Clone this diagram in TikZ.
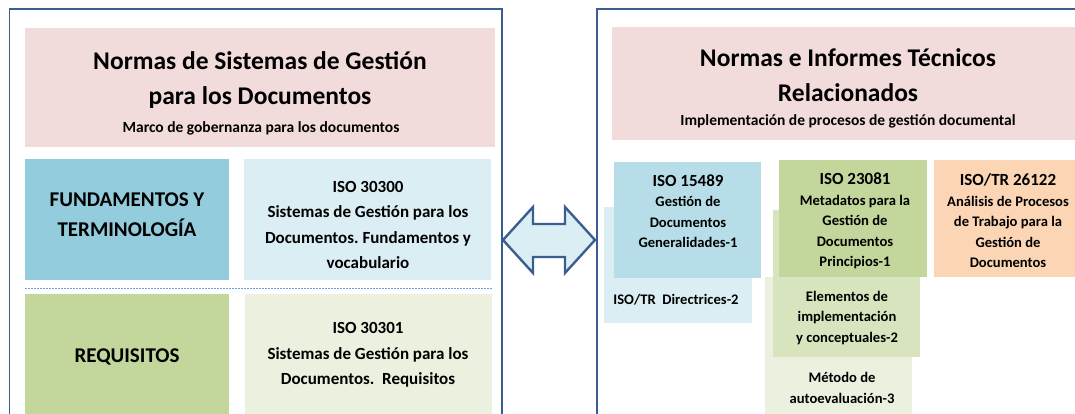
\documentclass[tikz,border=0pt]{standalone}
\usepackage{fontspec}
\setmainfont{Carlito}
\usepackage{tikz}

\definecolor{frameblue}{HTML}{3A5F8F}
\definecolor{titlepink}{HTML}{F2DCDB}
\definecolor{fundblue}{HTML}{93CDDD}
\definecolor{paleblue}{HTML}{DBEEF4}
\definecolor{reqgreen}{HTML}{C3D69B}
\definecolor{palegreen}{HTML}{EBF1DE}
\definecolor{midblue}{HTML}{B7DEE8}
\definecolor{midgreen}{HTML}{D7E4BD}
\definecolor{peach}{HTML}{FCD5B5}
\definecolor{dashblue}{HTML}{6F9FD8}

\begin{document}
\frenchspacing
\begin{tikzpicture}[x=1pt, y=-1pt,
  txt/.style={inner sep=0pt, align=center},
  bigtitle/.style={txt, font=\bfseries\fontsize{25.5}{35.5}\selectfont},
  subtitle/.style={txt, font=\bfseries\fontsize{15.5}{18}\selectfont},
  headbox/.style={txt, font=\bfseries\fontsize{21}{30}\selectfont},
  normbox/.style={txt, font=\bfseries\fontsize{17}{25.5}\selectfont},
  smallbox/.style={txt, font=\bfseries\fontsize{14.6}{20.5}\selectfont}]

  \useasboundingbox (0,0) rectangle (1075,414);
  \clip (0,0) rectangle (1075,414);

  % left panel
  \draw[frameblue, line width=1.2pt] (9.5,420) -- (9.5,9) -- (502,9) -- (502,420);
  \fill[titlepink] (25,28) rectangle (495,147);
  \fill[fundblue] (25,159) rectangle (229,280);
  \fill[paleblue] (244,159) rectangle (491,280);
  \draw[dashblue, line width=1pt, dash pattern=on 2pt off 1pt] (25,288) -- (492,288);
  \fill[reqgreen] (25,294) rectangle (229,420);
  \fill[palegreen] (245,294) rectangle (492,420);

  \node[bigtitle] (titleL) at (260,80) {Normas de Sistemas de Gestión\\para los Documentos};
  \node[subtitle] (subL) at (261,128) {Marco de gobernanza para los documentos};
  \node[headbox] (fund) at (127,215) {FUNDAMENTOS Y\\TERMINOLOGÍA};
  \node[normbox] (iso30300) at (368,225) {ISO 30300\\Sistemas de Gestión para los\\Documentos. Fundamentos y\\vocabulario};
  \node[headbox] (req) at (127,357) {REQUISITOS};
  \node[normbox] (iso30301) at (368,355) {ISO 30301\\Sistemas de Gestión para los\\Documentos.\ \ Requisitos};

  % double arrow between the panels
  \draw[frameblue, fill=paleblue, line width=2.4pt, line join=miter]
    (503,240) -- (533,207) -- (533,224) -- (565,224) -- (565,207) -- (595,240)
    -- (565,273) -- (565,257) -- (533,257) -- (533,273) -- cycle;

  % right panel
  \draw[frameblue, line width=1.2pt] (597,420) -- (597,9) -- (1080,9);
  \fill[titlepink] (612,27) rectangle (1080,140);
  \fill[paleblue] (604,207) rectangle (752,323);
  \fill[midblue] (614,162) rectangle (761,278);
  \fill[palegreen] (765,277) rectangle (912,420);
  \fill[midgreen] (773,210) rectangle (920,357);
  \fill[reqgreen] (779,160) rectangle (927,277);
  \fill[peach] (934,160) rectangle (1080,277);

  \node[bigtitle] (titleR) at (848,75) {Normas e Informes Técnicos\\Relacionados};
  \node[subtitle] (subR) at (848,121) {Implementación de procesos de gestión documental};
  \node[smallbox] (iso15489) at (688,211) {{\fontsize{17}{20}\selectfont ISO 15489}\\Gestión de\\Documentos\\Generalidades-1};
  \node[smallbox] (directrices) at (676,300) {ISO/TR\ \ Directrices-2};
  \node[smallbox] (iso23081) at (855,221) {{\fontsize{17}{20}\selectfont ISO 23081}\\Metadatos para la\\Gestión de\\Documentos\\Principios-1};
  \node[smallbox] (elementos) at (847,318) {Elementos de\\implementación\\y conceptuales-2};
  \node[smallbox] (metodo) at (842,388) {Método de\\autoevaluación-3};
  \node[smallbox] (iso26122) at (1008,221) {{\fontsize{17}{20}\selectfont ISO/TR 26122}\\Análisis de Procesos\\de Trabajo para la\\Gestión de\\Documentos};
\end{tikzpicture}
\end{document}
